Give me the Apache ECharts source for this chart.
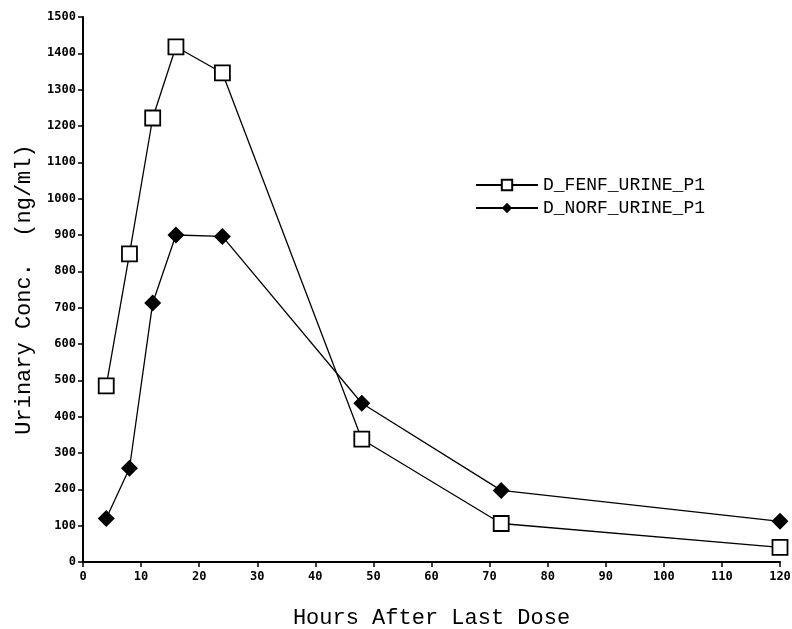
<!DOCTYPE html>
<html>
<head>
<meta charset="utf-8">
<script src="https://cdn.jsdelivr.net/npm/echarts@6/dist/echarts.min.js"></script>
<style>
  html, body { margin: 0; padding: 0; background: #fff; }
  #chart { width: 792px; height: 629px; }
</style>
</head>
<body>
<div id="chart"></div>
<script>
const hours = [4, 8, 12, 16, 24, 48, 72, 120]
const fenfValues = [485, 848, 1222, 1418, 1346, 338, 106, 40]
const norfValues = [120, 258, 713, 900, 896, 437, 197, 112]

const pairs = (xs, ys) => xs.map((x, i) => [x, ys[i]])

const chart = echarts.init(document.getElementById('chart'))

const axisLabel = {
  color: '#000',
  fontFamily: 'DejaVu Sans Mono',
  fontWeight: 'bold',
  fontSize: 12,
  formatter: v => String(v)
}

const nameStyle = { color: '#000', fontFamily: 'Liberation Mono', fontSize: 22 }

const option = {
  animation: false,
  backgroundColor: '#fff',
  grid: { left: 83, right: 12, top: 17, bottom: 67, outerBoundsMode: 'none' },
  legend: {
    left: 470,
    top: 171,
    orient: 'vertical',
    itemWidth: 62,
    itemHeight: 13,
    itemGap: 5,
    textStyle: { color: '#000', fontFamily: 'Liberation Mono', fontSize: 18 },
    data: ['D_FENF_URINE_P1', 'D_NORF_URINE_P1']
  },
  xAxis: {
    type: 'value',
    min: 0,
    max: 120,
    interval: 10,
    name: 'Hours After Last Dose',
    nameLocation: 'middle',
    nameGap: 45,
    nameTextStyle: nameStyle,
    axisLine: { lineStyle: { color: '#000', width: 2 } },
    axisTick: { show: true, length: 5, lineStyle: { color: '#000', width: 1.5 } },
    axisLabel: { ...axisLabel, margin: 9 },
    splitLine: { show: false }
  },
  yAxis: {
    type: 'value',
    min: 0,
    max: 1500,
    interval: 100,
    name: 'Urinary Conc.  (ng/ml)',
    nameLocation: 'middle',
    nameGap: 48,
    nameTextStyle: nameStyle,
    axisLine: { show: true, lineStyle: { color: '#000', width: 2 } },
    axisTick: { show: true, length: 5, lineStyle: { color: '#000', width: 1.5 } },
    axisLabel: { ...axisLabel, margin: 7 },
    splitLine: { show: false }
  },
  series: [
    {
      name: 'D_FENF_URINE_P1',
      type: 'line',
      data: pairs(hours, fenfValues),
      symbol: 'rect',
      symbolSize: 15,
      lineStyle: { color: '#000', width: 1.3 },
      itemStyle: { color: '#fff', borderColor: '#000', borderWidth: 1.8 },
      z: 3
    },
    {
      name: 'D_NORF_URINE_P1',
      type: 'line',
      data: pairs(hours, norfValues),
      symbol: 'diamond',
      symbolSize: 17,
      lineStyle: { color: '#000', width: 1.3 },
      itemStyle: { color: '#000', borderColor: '#000', borderWidth: 0 },
      z: 2
    }
  ]
}

chart.setOption(option)
</script>
</body>
</html>
